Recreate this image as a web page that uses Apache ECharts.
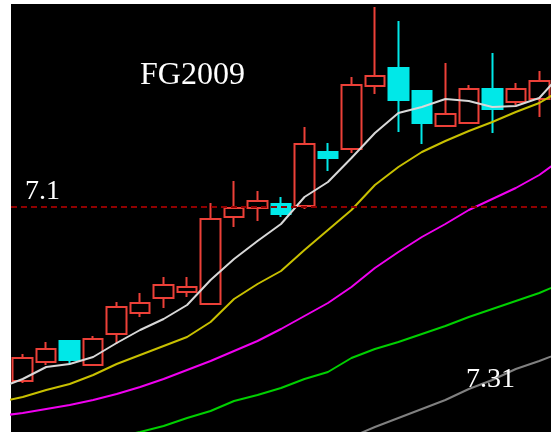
<!DOCTYPE html>
<html>
<head>
<meta charset="utf-8">
<title>FG2009</title>
<script src="https://cdn.jsdelivr.net/npm/echarts@6/dist/echarts.min.js"></script>
<style>
    html, body { margin: 0; padding: 0; background: #fff; }
    #main { width: 551px; height: 432px; }
</style>
</head>
<body>
<div id="main"></div>
<script>
// 7月交易日 (K线)
var days = ['7.1', '7.2', '7.3', '7.6', '7.7', '7.8', '7.9', '7.10', '7.13', '7.14', '7.15', '7.16',
    '7.17', '7.20', '7.21', '7.22', '7.23', '7.24', '7.27', '7.28', '7.29', '7.30', '7.31'];

var open = [1451, 1470, 1491, 1467, 1498, 1519, 1534, 1540, 1528, 1615, 1624, 1628,
    1626, 1680, 1683, 1746, 1764, 1741, 1706, 1709, 1743, 1730, 1733];
var close = [1474, 1483, 1472, 1493, 1525, 1529, 1547, 1545, 1613, 1624, 1631, 1618,
    1688, 1674, 1747, 1756, 1732, 1709, 1718, 1743, 1723, 1743, 1751];
var low = [1449, 1467, 1468, 1467, 1488, 1515, 1524, 1535, 1527, 1605, 1611, 1615,
    1623, 1661, 1679, 1738, 1700, 1688, 1706, 1709, 1699, 1727, 1715];
var high = [1478, 1490, 1491, 1496, 1530, 1539, 1555, 1555, 1629, 1651, 1641, 1635,
    1705, 1689, 1755, 1825, 1811, 1741, 1769, 1747, 1779, 1749, 1761];

// 均线多一天在左右两边 (6.30 ... 8.3)
var maDays = ['6.30'].concat(days).concat(['8.3']);
var ma5 = [1444, 1453, 1465, 1468, 1475, 1489, 1502, 1513, 1527, 1552, 1573, 1591, 1608,
    1635, 1650, 1674, 1699, 1719, 1725, 1733, 1731, 1725, 1726, 1734, 1760];
var ma10 = [1430, 1435, 1442, 1448, 1457, 1468, 1477, 1486, 1495, 1510, 1533, 1548, 1561,
    1582, 1602, 1622, 1647, 1665, 1680, 1691, 1701, 1710, 1720, 1729, 1743];
var ma20 = [1416, 1419, 1423, 1427, 1432, 1438, 1445, 1453, 1462, 1471, 1481, 1491, 1503,
    1516, 1529, 1545, 1564, 1580, 1595, 1608, 1622, 1633, 1644, 1657, 1674];
var ma40 = [null, null, null, null, 1388, 1395, 1400, 1406, 1414, 1421, 1431, 1437, 1444,
    1453, 1460, 1474, 1483, 1490, 1498, 1506, 1515, 1523, 1531, 1539, 1549];
var ma60 = [null, null, null, null, null, null, null, null, null, null, null, null, null,
    null, 1386, 1395, 1405, 1414, 1423, 1432, 1443, 1452, 1463, 1471, 1480];

var markPrice = 1625; // 7.1 那条虚线

var myChart = echarts.init(document.getElementById('main'));

var kData = [];
for (var i = 0; i < days.length; i++) {
    kData.push([open[i], close[i], low[i], high[i]]);
}

function maData(arr) {
    var d = [];
    for (var i = 0; i < arr.length; i++) {
        if (arr[i] != null) {
            d.push([i - 1, arr[i]]);
        }
    }
    return d;
}

function maSeries(name, arr, color) {
    return {
        name: name,
        type: 'line',
        xAxisIndex: 1,
        data: maData(arr),
        showSymbol: false,
        symbol: 'none',
        clip: true,
        lineStyle: { color: color, width: 2 },
        silent: true
    };
}

var option = {
    animation: false,
    backgroundColor: '#fff',
    grid: {
        left: 11,
        top: 4,
        right: 0,
        bottom: 0,
        show: true,
        backgroundColor: '#000',
        borderWidth: 0
    },
    xAxis: [{
        type: 'category',
        data: days,
        boundaryGap: true,
        show: false
    }, {
        type: 'value',
        min: -0.5,
        max: days.length - 0.5,
        show: false
    }],
    yAxis: {
        type: 'value',
        min: 1400,
        max: 1828,
        show: false
    },
    graphic: [{
        type: 'text',
        x: 140,
        y: 76,
        style: {
            text: 'FG2009',
            fill: '#fff',
            font: '32px "Liberation Serif"',
            verticalAlign: 'middle'
        }
    }, {
        type: 'text',
        x: 25,
        y: 192,
        style: {
            text: '7.1',
            fill: '#fff',
            font: '28px "Liberation Serif"',
            verticalAlign: 'middle'
        }
    }, {
        type: 'text',
        x: 466,
        y: 380,
        z: 100,
        style: {
            text: '7.31',
            fill: '#fff',
            font: '28px "Liberation Serif"',
            verticalAlign: 'middle'
        }
    }],
    series: [{
        name: 'FG2009',
        type: 'candlestick',
        data: kData,
        barWidth: 20,
        itemStyle: {
            color: 'rgba(0,0,0,0)',
            color0: '#00e8e8',
            borderColor: '#ec4038',
            borderColor0: '#00e8e8',
            borderWidth: 2
        },
        markLine: {
            silent: true,
            symbol: 'none',
            label: { show: false },
            lineStyle: { color: '#900000', type: [6, 4], width: 2 },
            data: [{ yAxis: markPrice }]
        }
    },
        maSeries('MA5', ma5, '#d8d8d8'),
        maSeries('MA10', ma10, '#c8c000'),
        maSeries('MA20', ma20, '#f000f0'),
        maSeries('MA40', ma40, '#00d000'),
        maSeries('MA60', ma60, '#808080')
    ]
};

myChart.setOption(option);
</script>
</body>
</html>
